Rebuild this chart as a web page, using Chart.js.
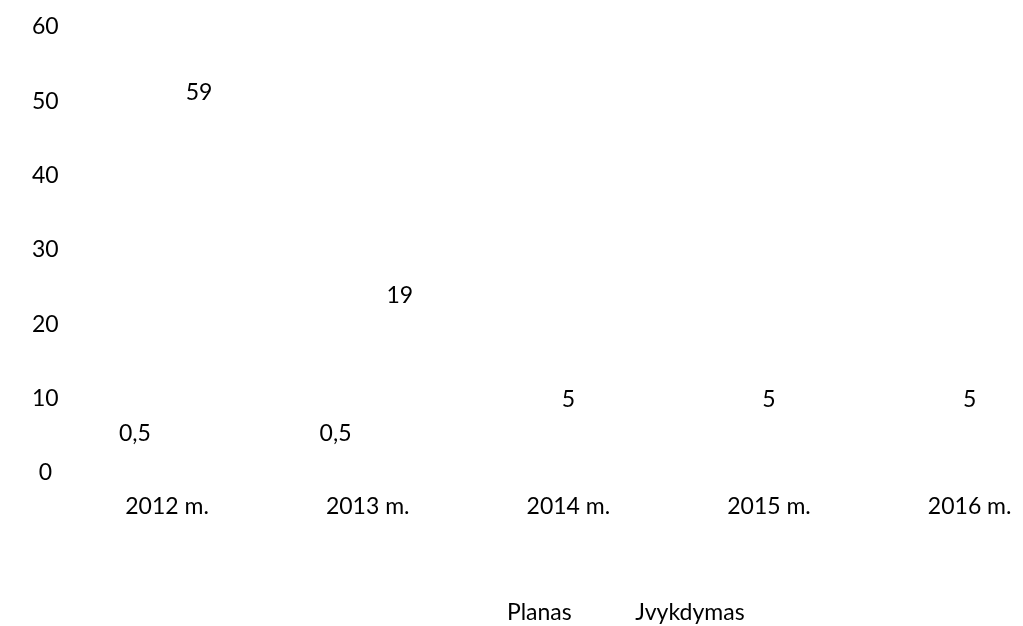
<!DOCTYPE html>
<html>
<head>
<meta charset="utf-8">
<script src="https://cdn.jsdelivr.net/npm/chart.js@4"></script>
<style>
  html, body { margin: 0; padding: 0; background: #fff; overflow: hidden; }
</style>
</head>
<body>
<canvas id="chartCanvas" width="1080" height="634"></canvas>
<script>
// data
const years = ["2012 m.", "2013 m.", "2014 m.", "2015 m.", "2016 m."]
const planas = [0.5, 0.5, 5, 5, 5]
const ivykdymas = [59, 19, null, null, null]
const yTicks = [0, 10, 20, 30, 40, 50, 60]

Chart.defaults.font.family = "Lato, 'Open Sans', sans-serif"
Chart.defaults.font.size = 23
Chart.defaults.color = "#000"

// draws the value over each bar (lithuanian decimal comma)
const valueLabels = {
    id: "valueLabels",
    afterDatasetsDraw(chart) {
        const ctx = chart.ctx
        ctx.save()
        ctx.font = "23px Lato, 'Open Sans', sans-serif"
        ctx.fillStyle = "#000"
        ctx.textAlign = "center"
        ctx.textBaseline = "middle"
        chart.data.datasets.forEach((ds, i) => {
            const meta = chart.getDatasetMeta(i)
            meta.data.forEach((bar, j) => {
                const v = ds.data[j]
                if (v === null) return
                let y = bar.y - 36
                // no room above -> put it inside the bar
                if (y < chart.chartArea.top) y = bar.y + 58
                ctx.fillText(String(v).replace(".", ","), bar.x, y)
            })
        })
        ctx.restore()
    }
}

// the legend sits a bit right of centre in the original
const legendShift = {
    id: "legendShift",
    afterLayout(chart) {
        chart.legend.left += 48
        chart.legend.right += 48
    }
}

const ctx = document.getElementById("chartCanvas")
const myChart = new Chart(ctx, {
    type: "bar",
    data: {
        labels: years,
        datasets: [
            {label: "Planas", data: planas, backgroundColor: "rgba(0,0,0,0)", borderWidth: 0},
            {label: "Jvykdymas", data: ivykdymas, backgroundColor: "rgba(0,0,0,0)", borderWidth: 0}
        ]
    },
    options: {
        responsive: false,
        animation: false,
        layout: {padding: {left: 24, top: 27, right: 10, bottom: 0}},
        datasets: {bar: {categoryPercentage: 0.64, barPercentage: 0.9, skipNull: true}},
        plugins: {
            legend: {
                position: "bottom",
                labels: {boxWidth: 50, padding: 2}
            },
            tooltip: {enabled: false}
        },
        scales: {
            x: {
                grid: {display: false},
                border: {display: false},
                ticks: {padding: 12},
                afterFit: s => { s.height = 126 }
            },
            y: {
                min: 0,
                max: 60,
                afterBuildTicks: s => { s.ticks = yTicks.map(v => ({value: v})) },
                grid: {display: false, drawTicks: false},
                border: {display: false},
                ticks: {padding: 8, crossAlign: "center"}
            }
        }
    },
    plugins: [valueLabels, legendShift]
})
</script>
</body>
</html>
